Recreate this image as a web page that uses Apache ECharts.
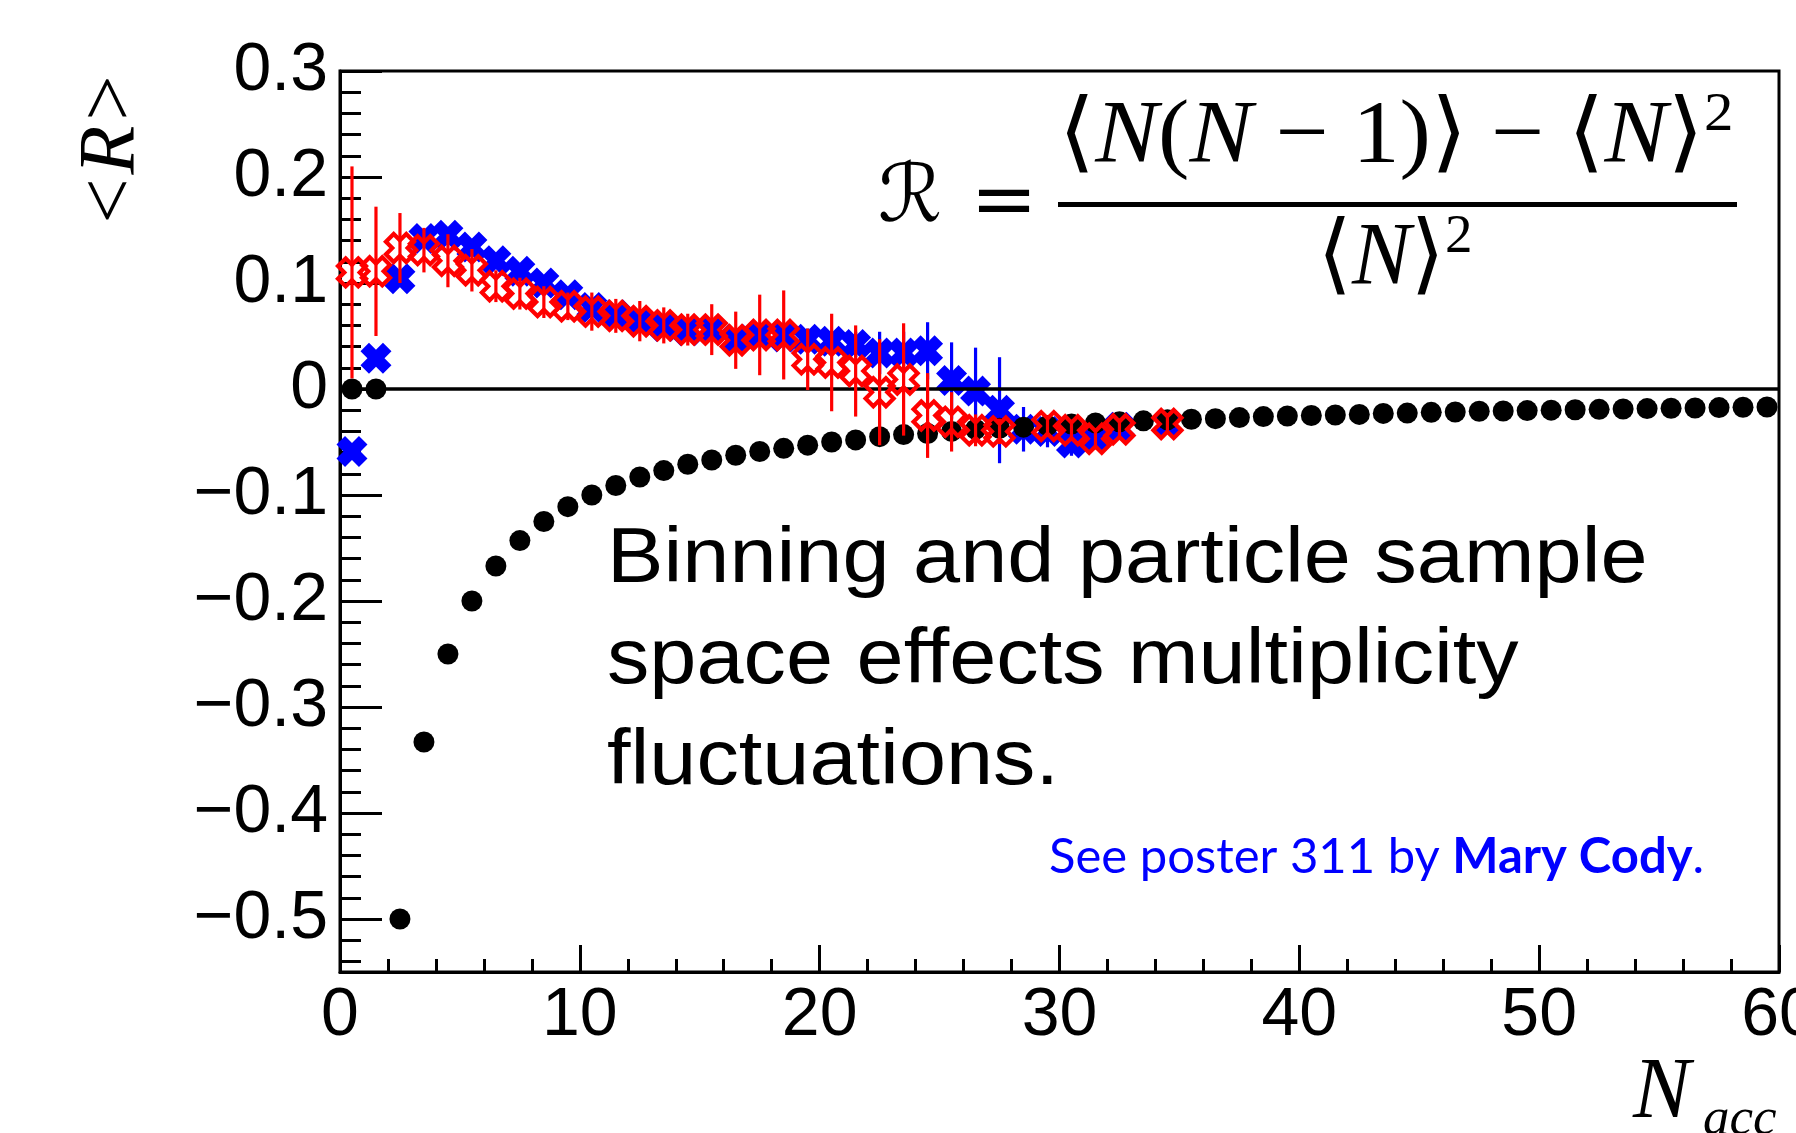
<!DOCTYPE html>
<html><head><meta charset="utf-8">
<script src="https://cdn.jsdelivr.net/npm/echarts@6/dist/echarts.min.js"></script>
<style>html,body{margin:0;padding:0;background:#fff}#c{width:1796px;height:1133px}</style>
</head><body><div id="c"></div>
<script>
// ---- data ----
const blackX = [0.5,1.5,2.5,3.5,4.5,5.5,6.5,7.5,8.5,9.5,10.5,11.5,12.5,13.5,14.5,15.5,16.5,17.5,18.5,19.5,
  20.5,21.5,22.5,23.5,24.5,25.5,26.5,27.5,28.5,29.5,30.5,31.5,32.5,33.5,34.5,35.5,36.5,37.5,38.5,39.5,
  40.5,41.5,42.5,43.5,44.5,45.5,46.5,47.5,48.5,49.5,50.5,51.5,52.5,53.5,54.5,55.5,56.5,57.5,58.5,59.5];
const blackY = [0,0,-0.5,-0.333,-0.25,-0.2,-0.167,-0.143,-0.125,-0.111,
  -0.1,-0.091,-0.083,-0.077,-0.071,-0.067,-0.0625,-0.059,-0.056,-0.053,
  -0.05,-0.048,-0.045,-0.043,-0.042,-0.04,-0.038,-0.037,-0.036,-0.0345,
  -0.033,-0.032,-0.031,-0.030,-0.029,-0.0285,-0.028,-0.027,-0.026,-0.0255,
  -0.025,-0.0245,-0.024,-0.023,-0.0227,-0.022,-0.0217,-0.021,-0.0208,-0.0204,
  -0.020,-0.0196,-0.0192,-0.0189,-0.0185,-0.0182,-0.0179,-0.0175,-0.0172,-0.017];

const blueX = [0.5,1.5,2.5,3.5,4.5,5.5,6.5,7.5,8.5,9.5,10.5,11.5,12.5,13.5,14.5,15.5,16.5,17.5,18.5,19.5,
  20.5,21.5,22.5,23.5,24.5,25.5,26.5,27.5,28.5,29.5,30.5,31.5,32.5,34.5];
const blueY = [-0.059,0.029,0.104,0.142,0.145,0.134,0.121,0.111,0.100,0.089,
  0.077,0.070,0.064,0.059,0.055,0.056,0.047,0.051,0.049,0.047,
  0.045,0.042,0.034,0.034,0.036,0.008,-0.002,-0.020,-0.038,-0.040,
  -0.051,-0.044,-0.036,-0.033];
const blueErr = [0.006,0.006,0.006,0.006,0.006,0.006,0.006,0.006,0.006,0.006,
  0.008,0.008,0.008,0.008,0.008,0.008,0.008,0.008,0.008,0.010,
  0.010,0.012,0.020,0.020,0.027,0.036,0.041,0.050,0.021,0.015,
  0.012,0.010,0.010,0.008];

const redX = [0.5,1.5,2.5,3.5,4.5,5.5,6.5,7.5,8.5,9.5,10.5,11.5,12.5,13.5,14.5,15.5,16.5,17.5,18.5,19.5,
  20.5,21.5,22.5,23.5,24.5,25.5,26.5,27.5,29.5,30.5,31.5,32.5,34.5];
const redY = [0.110,0.111,0.133,0.131,0.121,0.112,0.097,0.090,0.082,0.078,
  0.073,0.069,0.064,0.060,0.056,0.056,0.046,0.051,0.051,0.028,
  0.025,0.017,-0.003,0.009,-0.025,-0.031,-0.039,-0.040,-0.035,-0.039,
  -0.047,-0.038,-0.033];
const redErr = [0.100,0.061,0.033,0.021,0.025,0.020,0.015,0.015,0.015,0.013,
  0.018,0.016,0.019,0.017,0.015,0.024,0.027,0.038,0.042,0.029,
  0.046,0.043,0.050,0.053,0.040,0.028,0.015,0.012,0.010,0.010,
  0.010,0.010,0.008];

const yTickValues = [-0.5,-0.4,-0.3,-0.2,-0.1,0,0.1,0.2,0.3];
const yMinorValues = [-0.54,-0.52,-0.48,-0.46,-0.44,-0.42,-0.38,-0.36,-0.34,-0.32,-0.28,-0.26,-0.24,-0.22,
  -0.18,-0.16,-0.14,-0.12,-0.08,-0.06,-0.04,-0.02,0.02,0.04,0.06,0.08,0.12,0.14,0.16,0.18,0.22,0.24,0.26,0.28];

// ---- build ----
const pts = (xs, ys) => xs.map((x, i) => [x, ys[i]]);
const errs = (xs, ys, es) => xs.map((x, i) => [x, ys[i] - es[i], ys[i] + es[i]]);
const errRender = color => (params, api) => {
  const p1 = api.coord([api.value(0), api.value(1)]);
  const p2 = api.coord([api.value(0), api.value(2)]);
  return {type: 'line', shape: {x1: p1[0], y1: p1[1], x2: p2[0], y2: p2[1]},
          style: {stroke: color, lineWidth: 3.2}};
};
const xPath = 'path://M0,-0.55L0.45,-1L1,-0.45L0.55,0L1,0.45L0.45,1L0,0.55L-0.45,1L-1,0.45L-0.55,0L-1,-0.45L-0.45,-1Z';
const BLUE = '#0000ff', RED = '#ff0000';
const tickFont = {fontFamily: '"Liberation Sans", Arial, sans-serif', fontSize: 68, color: '#000'};

const chart = echarts.init(document.getElementById('c'), null, {renderer: 'canvas'});
chart.setOption({
  animation: false,
  backgroundColor: '#ffffff',
  grid: {left: 340, top: 71, width: 1439, height: 901, show: true, containLabel: false,
         outerBoundsMode: 'none',
         borderColor: '#000', borderWidth: 3, backgroundColor: 'transparent'},
  xAxis: {
    type: 'value', min: 0, max: 60, interval: 10,
    axisLine: {onZero: false, lineStyle: {color: '#000', width: 3}},
    axisTick: {inside: true, length: 27, lineStyle: {color: '#000', width: 3}},
    minorTick: {show: true, splitNumber: 5, length: 13, lineStyle: {color: '#000', width: 3}},
    axisLabel: Object.assign({margin: 10, lineHeight: 68}, tickFont),
    splitLine: {show: false}, minorSplitLine: {show: false}
  },
  yAxis: [{
    type: 'value', min: -0.55, max: 0.3, position: 'left',
    axisLine: {onZero: false, lineStyle: {color: '#000', width: 3}},
    axisTick: {inside: true, length: 42, customValues: yTickValues, lineStyle: {color: '#000', width: 3}},
    axisLabel: Object.assign({margin: 12, customValues: yTickValues,
      formatter: v => v < 0 ? '\u2212' + String(Math.abs(v)) : String(v)}, tickFont),
    splitLine: {show: false}
  }, {
    type: 'value', min: -0.55, max: 0.3, position: 'left', offset: 0,
    axisLine: {show: false, onZero: false},
    axisTick: {inside: true, length: 21, customValues: yMinorValues, lineStyle: {color: '#000', width: 3}},
    axisLabel: {show: false}, splitLine: {show: false}
  }],
  series: [
    {type: 'custom', name: 'blueErr', z: 2, renderItem: errRender(BLUE),
     data: errs(blueX, blueY, blueErr), silent: true},
    {type: 'scatter', name: 'blue', z: 3, symbol: xPath, symbolSize: 31,
     itemStyle: {color: BLUE, opacity: 1}, data: pts(blueX, blueY), silent: true},
    {type: 'scatter', name: 'black', z: 4, symbol: 'circle', symbolSize: 21,
     itemStyle: {color: '#000', opacity: 1}, data: pts(blackX, blackY), silent: true,
     markLine: {silent: true, symbol: ['none', 'none'], label: {show: false},
       lineStyle: {color: '#000', width: 3.5, type: 'solid', opacity: 1}, data: [{yAxis: 0}]}},
    {type: 'custom', name: 'redErr', z: 5, renderItem: errRender(RED),
     data: errs(redX, redY, redErr), silent: true},
    {type: 'scatter', name: 'red', z: 6, symbol: xPath, symbolSize: 28,
     itemStyle: {color: 'rgba(255,255,255,0)', borderColor: RED, borderWidth: 4.2, opacity: 1},
     data: pts(redX, redY), silent: true}
  ],
  graphic: [
    {type: 'text', x: 113, y: 150, rotation: Math.PI / 2, z: 100,
     style: {text: '<R>', fontFamily: '"Liberation Serif", serif', fontStyle: 'italic', fontSize: 80,
             fill: '#000', align: 'center', verticalAlign: 'middle'}},
    {type: 'text', x: 1633, y: 1094, z: 100,
     style: {text: 'N', fontFamily: '"Liberation Serif", serif', fontStyle: 'italic', fontSize: 86,
             fill: '#000', align: 'left', verticalAlign: 'middle'}},
    {type: 'text', x: 1703, y: 1120, z: 100,
     style: {text: 'acc', fontFamily: '"Liberation Serif", serif', fontStyle: 'italic', fontSize: 53,
             fill: '#000', align: 'left', verticalAlign: 'middle'}},
    {type: 'text', x: 607, y: 510, scaleX: 1.1, z: 100,
     style: {text: 'Binning and particle sample\nspace effects multiplicity\nfluctuations.',
             fontFamily: '"Liberation Sans", Arial, sans-serif', fontSize: 77, lineHeight: 101,
             fill: '#000', align: 'left', verticalAlign: 'top'}},
    {type: 'text', x: 1049, y: 857, z: 100,
     style: {text: '{a|See poster 311 by }{b|Mary Cody}{a|.}', align: 'left', verticalAlign: 'middle',
             rich: {a: {fontFamily: 'Lato', fontSize: 49, fill: BLUE},
                    b: {fontFamily: 'Lato', fontSize: 49, fontWeight: 'bold', fill: BLUE}}}},
    {type: 'text', x: 910, y: 200, z: 100,
     style: {text: '\u211B', fontFamily: '"DejaVu Serif", "DejaVu Sans", serif', fontSize: 80,
             fill: '#000', align: 'center', verticalAlign: 'middle'}},
    {type: 'text', x: 1004, y: 205, z: 100,
     style: {text: '=', fontFamily: '"DejaVu Serif", serif', fontSize: 80,
             fill: '#000', align: 'center', verticalAlign: 'middle'}},
    {type: 'rect', z: 100, shape: {x: 1058, y: 202, width: 679, height: 5}, style: {fill: '#000'}},
    {type: 'text', x: 1396, y: 138, scaleX: 1.07, z: 100,
     style: {text: '{b|\u27E8}{n|N}{b|(}{n|N}{b| \u2212 1)\u27E9 \u2212 \u27E8}{n|N}{b|\u27E9}{s|2}',
             align: 'center', verticalAlign: 'middle',
             rich: {b: {fontFamily: '"Liberation Serif", "DejaVu Serif", serif', fontSize: 88, lineHeight: 100, fill: '#000'},
                    n: {fontFamily: '"Liberation Serif", serif', fontStyle: 'italic', fontSize: 88, lineHeight: 100, fill: '#000'},
                    s: {fontFamily: '"Liberation Serif", serif', fontSize: 55, lineHeight: 55, verticalAlign: 'top', fill: '#000'}}}},
    {type: 'text', x: 1395, y: 260, z: 100,
     style: {text: '{b|\u27E8}{n|N}{b|\u27E9}{s|2}',
             align: 'center', verticalAlign: 'middle',
             rich: {b: {fontFamily: '"Liberation Serif", "DejaVu Serif", serif', fontSize: 88, lineHeight: 100, fill: '#000'},
                    n: {fontFamily: '"Liberation Serif", serif', fontStyle: 'italic', fontSize: 88, lineHeight: 100, fill: '#000'},
                    s: {fontFamily: '"Liberation Serif", serif', fontSize: 55, lineHeight: 55, verticalAlign: 'top', fill: '#000'}}}}
  ]
});
</script></body></html>
